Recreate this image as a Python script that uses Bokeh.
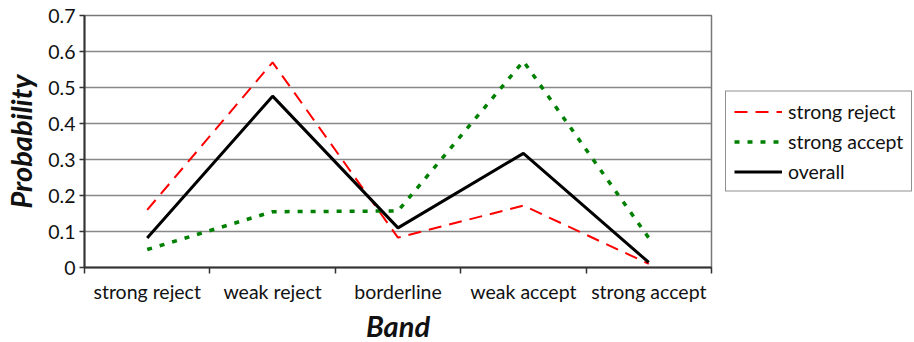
from bokeh.plotting import figure
from bokeh.models import FixedTicker, Legend, LegendItem
from bokeh.embed import file_html
from bokeh.resources import INLINE

categories = ["strong reject", "weak reject", "borderline", "weak accept", "strong accept"]
strong_reject = [0.16, 0.57, 0.083, 0.172, 0.01]
strong_accept = [0.05, 0.155, 0.157, 0.573, 0.082]
overall = [0.082, 0.476, 0.11, 0.317, 0.014]
y_ticks = [0, 0.1, 0.2, 0.3, 0.4, 0.5, 0.6, 0.7]
y_labels = ["0", "0.1", "0.2", "0.3", "0.4", "0.5", "0.6", "0.7"]

xs = [i + 0.5 for i in range(len(categories))]
FONT = "Lato"

p = figure(frame_width=627, frame_height=252, output_backend="svg", toolbar_location=None,
           x_range=(0, len(categories)), y_range=(0, 0.7),
           min_border_left=82, min_border_right=0, min_border_top=15, min_border_bottom=75)
p.background_fill_color = "white"
p.border_fill_color = "white"
p.outline_line_color = "#777777"
p.outline_line_width = 1.5

p.xaxis.ticker = FixedTicker(ticks=xs, minor_ticks=list(range(len(categories) + 1)))
p.xaxis.major_label_overrides = {x: c for x, c in zip(xs, categories)}
p.xaxis.major_tick_line_color = None
p.xaxis.major_tick_out = 6
p.xaxis.major_tick_in = 0
p.xaxis.minor_tick_line_color = "#333333"
p.xaxis.minor_tick_out = 6
p.xaxis.minor_tick_in = 0
p.xaxis.minor_tick_line_width = 1.5
p.xaxis.axis_label = "Band"
p.xaxis.major_label_standoff = 6

p.yaxis.ticker = FixedTicker(ticks=y_ticks, minor_ticks=[])
p.yaxis.major_label_overrides = {t: l for t, l in zip(y_ticks, y_labels)}
p.yaxis.major_tick_out = 5
p.yaxis.major_tick_in = 0
p.yaxis.major_tick_line_color = "#333333"
p.yaxis.major_tick_line_width = 1.5
p.yaxis.axis_label = "Probability"
p.yaxis.major_label_standoff = 4

for ax in (p.xaxis, p.yaxis):
    ax.axis_line_color = "#333333"
    ax.axis_line_width = 2
    ax.major_label_text_font = FONT
    ax.major_label_text_font_size = "19.5px"
    ax.major_label_text_color = "#111111"
    ax.axis_label_text_font = FONT
    ax.axis_label_text_font_size = "29px"
    ax.axis_label_text_font_style = "bold italic"
    ax.axis_label_text_color = "#111111"
p.xaxis.axis_label_standoff = 2
p.yaxis.axis_label_standoff = 7

p.xgrid.grid_line_color = None
p.ygrid.ticker = FixedTicker(ticks=y_ticks)
p.ygrid.grid_line_color = "#888888"
p.ygrid.grid_line_width = 1.5

r1 = p.line(xs, strong_reject, line_color="#ff0000", line_width=2, line_dash="13 8")
r2 = p.line(xs, strong_accept, line_color="#008000", line_width=3.5, line_dash="5 8")
r3 = p.line(xs, overall, line_color="#000000", line_width=3)

legend = Legend(items=[LegendItem(label="strong reject", renderers=[r1]),
                       LegendItem(label="strong accept", renderers=[r2]),
                       LegendItem(label="overall", renderers=[r3])],
                location="center_left")
legend.label_text_font = FONT
legend.label_text_font_size = "19.5px"
legend.label_text_color = "#111111"
legend.border_line_color = "#222222"
legend.border_line_width = 1
legend.glyph_width = 48
legend.glyph_height = 22
legend.label_height = 22
legend.spacing = 7
legend.padding = 8
legend.margin = 14
legend.label_standoff = 6
legend.background_fill_alpha = 1
p.add_layout(legend, "right")

open("out.html", "w").write(file_html(p, INLINE))
